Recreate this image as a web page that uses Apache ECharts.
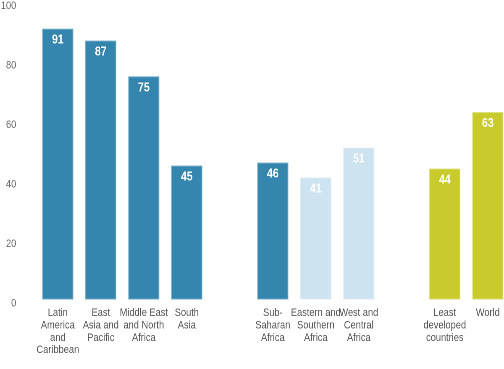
<!DOCTYPE html>
<html>
<head>
<meta charset="utf-8">
<script src="https://cdn.jsdelivr.net/npm/echarts@6/dist/echarts.min.js"></script>
<style>
html,body{margin:0;padding:0;background:#fff;overflow:hidden;}
#wrap{width:504px;height:369px;overflow:hidden;position:relative;}
#c{width:600px;height:369px;transform:scaleX(0.84);transform-origin:0 0;position:absolute;left:0;top:0;}
</style>
</head>
<body>
<div id="wrap"><div id="c"></div></div>
<script>
const categories = ["Latin\nAmerica\nand\nCaribbean", "East\nAsia and\nPacific", "Middle East\nand North\nAfrica", "South\nAsia", "", "Sub-\nSaharan\nAfrica", "Eastern and\nSouthern\nAfrica", "West and\nCentral\nAfrica", "", "Least\ndeveloped\ncountries", "World"];
const values = [91, 87, 75, 45, null, 46, 41, 51, null, 44, 63];
const groups = ["region", "region", "region", "region", null, "region", "sub", "sub", null, "global", "global"];
const yTicks = [0, 20, 40, 60, 80, 100];

const fills = { region: "#3486AE", sub: "#CDE3EF", global: "#C9CB2C" };
const borders = { region: "#6AA6C6", sub: "#DCEBF4", global: "#D8DA6A" };
const FONT = "'Liberation Sans', Arial, sans-serif";
// horizontal condensing factor applied via CSS (emulates a narrow typeface)
const SX = 0.84;

const chart = echarts.init(document.getElementById('c'), null, { renderer: 'canvas', devicePixelRatio: 2 });
chart.setOption({
  animation: false,
  grid: { left: 36.3 / SX, top: 2, width: 473 / SX, height: 297.5, containLabel: false, outerBoundsMode: 'none' },
  xAxis: {
    type: 'category',
    data: categories,
    axisLine: { show: false },
    axisTick: { show: false },
    axisLabel: {
      interval: 0, margin: 7.5, color: '#555', fontFamily: FONT, fontSize: 11, lineHeight: 12.3,
      align: 'center', verticalAlign: 'top', hideOverlap: false
    }
  },
  yAxis: {
    type: 'value', min: 0, max: 100, interval: 20,
    splitLine: { show: false },
    axisLine: { show: false },
    axisTick: { show: false },
    axisLabel: {
      margin: 20 / SX, color: '#666', fontFamily: FONT, fontSize: 11,
      verticalAlign: 'top', lineHeight: 8,
      formatter: v => yTicks.includes(v) ? String(v) : ''
    }
  },
  series: [{
    type: 'bar',
    barWidth: 31 / SX,
    data: values.map((v, i) => v == null ? null : {
      value: v,
      itemStyle: { color: fills[groups[i]], borderColor: borders[groups[i]], borderWidth: 1 }
    }),
    label: {
      show: true, position: 'insideTop', distance: 5,
      color: '#fff', fontFamily: FONT, fontWeight: 'bold', fontSize: 12.5
    }
  }]
});
</script>
</body>
</html>
